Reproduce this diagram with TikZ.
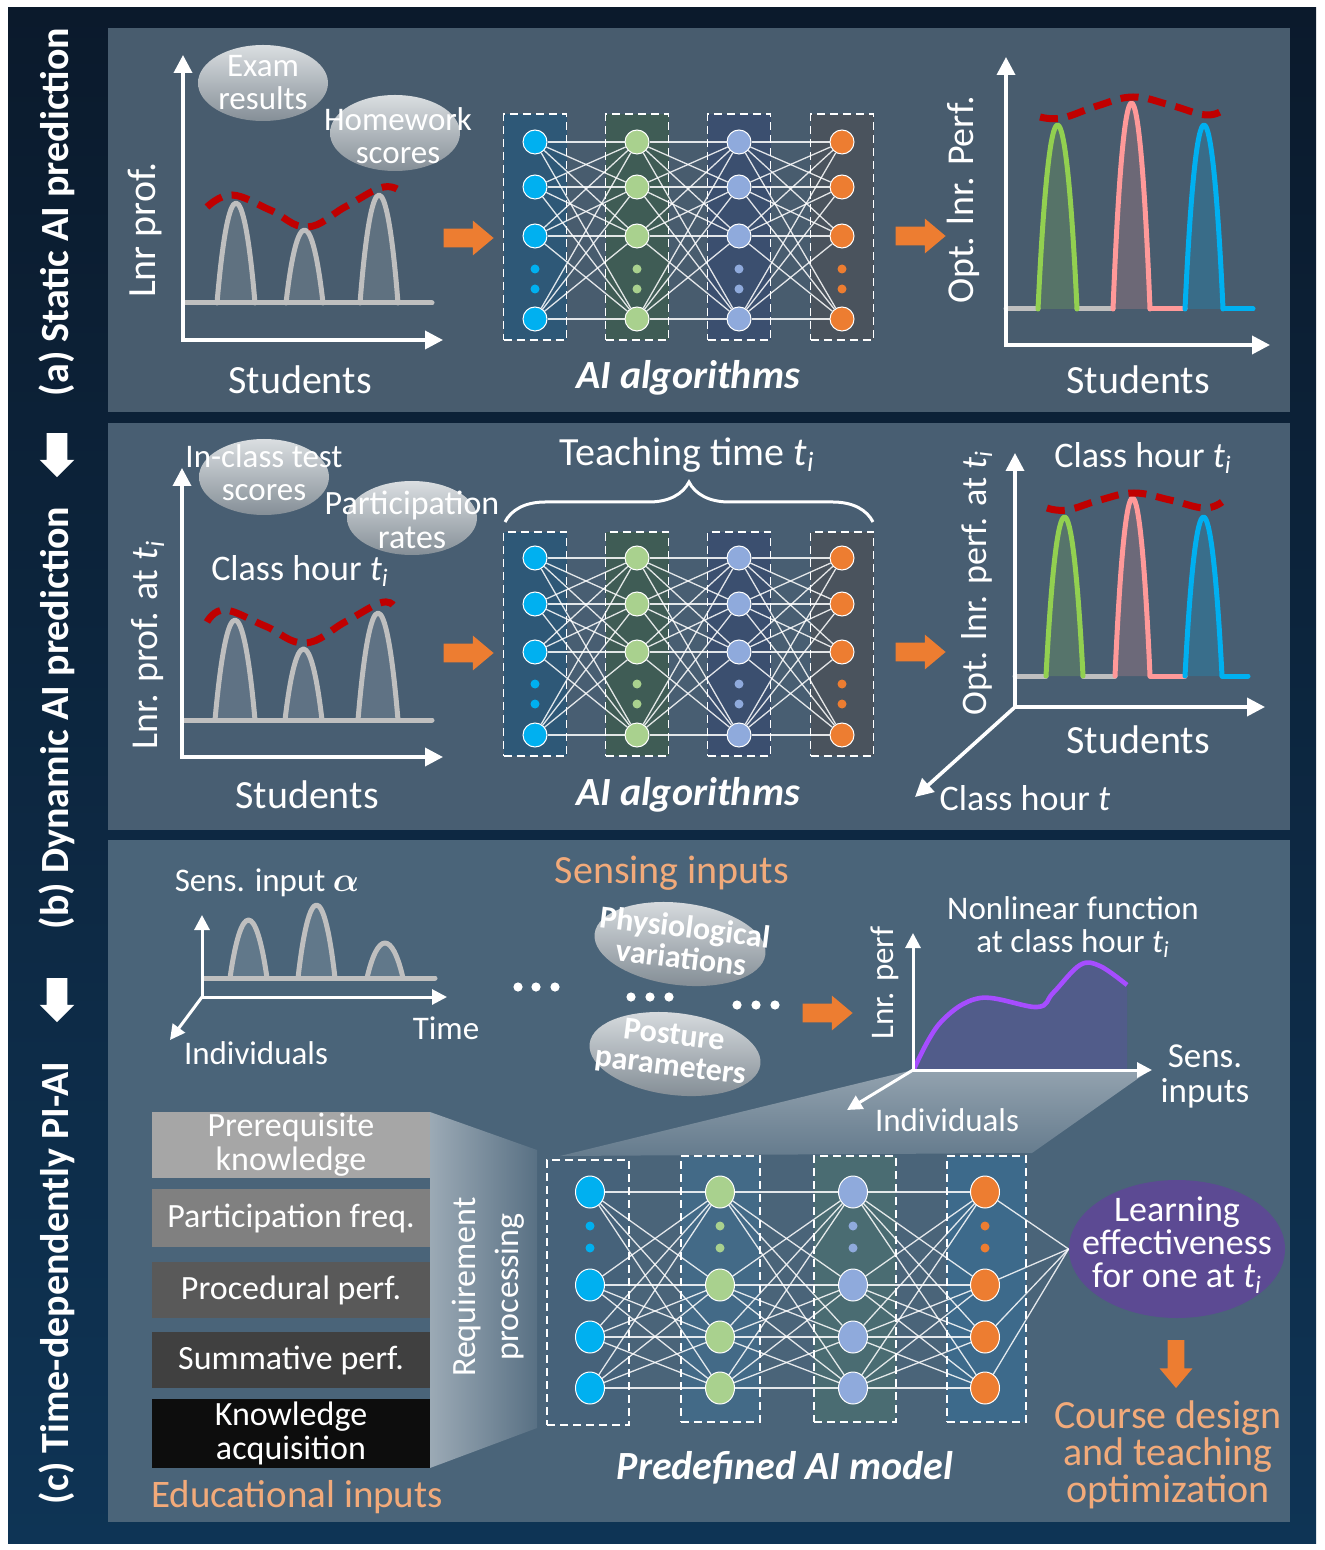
\documentclass[tikz,border=0pt]{standalone}
\usepackage{fontspec}
\setmainfont{Carlito}
\usetikzlibrary{arrows.meta,shapes.geometric,shapes.arrows,decorations.pathreplacing}

\definecolor{frameT}{HTML}{0B1A2C}
\definecolor{frameB}{HTML}{0E3455}
\definecolor{panelA}{HTML}{485C6E}
\definecolor{panelB}{HTML}{485E72}
\definecolor{panelC}{HTML}{4A6479}
\definecolor{orng}{HTML}{ED7D31}
\definecolor{peach}{HTML}{F2AA7A}
\definecolor{redd}{HTML}{C00000}
\definecolor{gpeak}{HTML}{BFBFBF}
\definecolor{ncyan}{HTML}{00B0F0}
\definecolor{ngreen}{HTML}{A9D18E}
\definecolor{nblue}{HTML}{8FAADC}
\definecolor{pgreen}{HTML}{92D050}
\definecolor{ppink}{HTML}{FF9999}
\definecolor{purp}{HTML}{5C4A93}
\definecolor{purline}{HTML}{A64DFF}
\definecolor{purfill}{HTML}{515C8A}
\definecolor{boxA1}{HTML}{2E5877}
\definecolor{boxA2}{HTML}{3F5C55}
\definecolor{boxA3}{HTML}{3B4F6F}
\definecolor{boxA4}{HTML}{4A535D}
\definecolor{boxC1}{HTML}{46627A}
\definecolor{boxC2}{HTML}{436A87}
\definecolor{boxC3}{HTML}{4A6C72}
\definecolor{boxC4}{HTML}{3D6A8B}
\definecolor{bubT}{HTML}{DADEE1}
\definecolor{bubB}{HTML}{858F97}

\newcommand\tsubi{\textit{t}\textsubscript{\textit{i}}}
\newcommand\archfill[5][]{\fill[peakfill,#1] (#2,#5) .. controls +({0.3*(#3-#2)},{-1.333*(#5-#4)}) and +({-0.3*(#3-#2)},{-1.333*(#5-#4)}) .. (#3,#5) -- cycle;}
\newcommand\archline[5][]{\draw[peakline,#1] (#2,#5) .. controls +({0.3*(#3-#2)},{-1.333*(#5-#4)}) and +({-0.3*(#3-#2)},{-1.333*(#5-#4)}) .. (#3,#5);}

\begin{document}
\begin{tikzpicture}[x=0.5pt,y=-0.5pt,
  txt/.style={text=white, inner sep=0pt, align=center},
  f20/.style={font=\fontsize{20}{24}\selectfont},
  f19/.style={font=\fontsize{19}{22}\selectfont},
  f18/.style={font=\fontsize{18}{18}\selectfont},
  f17/.style={font=\fontsize{17}{17}\selectfont},
  f16/.style={font=\fontsize{16.5}{16.5}\selectfont},
  bi/.style={font=\fontsize{20}{24}\selectfont\bfseries\itshape},
  sidelab/.style={rotate=90, text=white, inner sep=0pt, font=\fontsize{20}{24}\selectfont\bfseries},
  axis/.style={draw=white, line width=1.8pt, {Triangle[length=9pt,width=9pt]}-{Triangle[length=9pt,width=9pt]}},
  axisone/.style={draw=white, line width=1.8pt, -{Triangle[length=9pt,width=9pt]}},
  saxis/.style={draw=white, line width=1.5pt, {Triangle[length=7.5pt,width=7.5pt]}-{Triangle[length=7.5pt,width=7.5pt]}},
  saxisone/.style={draw=white, line width=1.5pt, -{Triangle[length=7.5pt,width=7.5pt]}},
  peakline/.style={draw=gpeak, line width=2.5pt, line cap=round, line join=round},
  peakfill/.style={fill=white, fill opacity=0.13},
  reddash/.style={draw=redd, line width=3.5pt, dash pattern=on 9pt off 5pt},
  neuron/.style={circle, inner sep=0pt, minimum size=12pt, draw=white, line width=0.5pt},
  neuronc/.style={ellipse, inner sep=0pt, minimum width=14.5pt, minimum height=16pt, draw=white, line width=0.5pt},
  ndot/.style={circle, inner sep=0pt, minimum size=4.5pt},
  link/.style={draw=white, line width=0.65pt, draw opacity=0.85},
  nnbox/.style={draw=white, line width=0.9pt, dash pattern=on 4pt off 2.5pt, inner sep=0pt},
  oarrow/.style={single arrow, fill=orng, inner sep=0pt, text width=0pt, text height=9pt, text depth=0pt, minimum height=25pt, single arrow head extend=4pt, single arrow tip angle=80},
  warrow/.style={single arrow, fill=white, inner sep=0pt, text width=0pt, text height=10pt, text depth=0pt, minimum height=22pt, single arrow head extend=3.5pt, rotate=-90},
  bubble/.style={top color=bubT, bottom color=bubB},
  ebox/.style={txt, f17, minimum width=139pt, text=white}
]
\useasboundingbox (0,0) rectangle (1325,1550);
\fill[white] (0,0) rectangle (1325,1550);
\shade[top color=frameT, bottom color=frameB] (8,8) rectangle (1316,1543);

% panels
\fill[panelA] (108,28) rectangle (1290,412);
\fill[panelB] (108,423) rectangle (1290,830);
\fill[panelC] (108,840) rectangle (1290,1522);

% side labels
\node[sidelab] (la) at (57,212) {(a) Static AI prediction};
\node[sidelab] (lb) at (57,718) {(b) Dynamic AI prediction};
\node[sidelab] (lc) at (57,1283) {(c) Time-dependently PI-AI};
\node[warrow] (dw1) at (57,450) {};
\node[warrow] (dw2) at (57,995) {};

%%%%%%%%%%%%%%%% PANEL A %%%%%%%%%%%%%%%%
% left chart
\coordinate (a1o) at (183,340); \coordinate (a1y) at (183,55); \coordinate (a1x) at (443,340);
\archfill{217}{255}{203}{303}
\archfill{286}{323}{230}{303}
\archfill{360}{398}{195}{303}
\draw[peakline] (185,303) -- (432,303);
\archline{217}{255}{203}{303}
\archline{286}{323}{230}{303}
\archline{360}{398}{195}{303}
\draw[reddash] plot[smooth, tension=0.7] coordinates {(207,207) (232,195) (270,210) (307,227) (345,207) (380,188) (397,189)};
\draw[axis] (a1y) -- (a1o) -- (a1x);
\coordinate (bex) at (263,83);
\shade[bubble] (bex) ellipse [x radius=32.5pt, y radius=19pt];
\node[txt, f16] (tex) at (263,83) {Exam\\results};
\coordinate (bhw) at (395,133);
\shade[bubble] (bhw) ellipse [x radius=32.5pt, y radius=19pt];
\node[txt, f16] (thw) at (398,136) {Homework\\scores};
\node[txt, f20, rotate=90] (tlnr) at (145,230) {Lnr prof.};
\node[txt, f20] (tst1) at (300,380) {Students};
\node[oarrow] (oa1) at (463,238) {};

% network a
\foreach \c/\x/\bx in {1/535/boxA1, 2/637/boxA2, 3/739/boxA3, 4/842/boxA4} {
  \node[nnbox, fill=\bx, minimum width=31.5pt, minimum height=113pt] (abox\c) at (\x,227) {};
}
\foreach \c/\x/\col in {1/535/ncyan, 2/637/ngreen, 3/739/nblue, 4/842/orng} {
  \foreach \r/\y in {1/142,2/187,3/236,4/319} {
    \node[neuron, fill=\col] (a-\c-\r) at (\x,\y) {};
  }
  \node[ndot, fill=\col] (a-\c-d1) at (\x,269) {};
  \node[ndot, fill=\col] (a-\c-d2) at (\x,289) {};
}
\foreach \c/\n in {1/2,2/3,3/4} {
  \foreach \i in {1,...,4} {
    \foreach \j in {1,...,4} { \draw[link] (a-\c-\i) -- (a-\n-\j); }
  }
}
\node[txt, bi] (tai1) at (688,378) {AI algorithms};
\node[oarrow] (oa2) at (915,236) {};

% right chart a
\coordinate (a2o) at (1006,345); \coordinate (a2y) at (1006,57); \coordinate (a2x) at (1270,345);
\archfill[fill=pgreen, fill opacity=0.2]{1038}{1077}{125}{309}
\archfill[fill=ppink, fill opacity=0.2]{1113}{1150}{103}{309}
\archfill[fill=ncyan, fill opacity=0.2]{1185}{1223}{125}{309}
\draw[peakline] (1006,309) -- (1038,309);
\draw[peakline] (1077,309) -- (1113,309);
\draw[peakline, draw=ppink] (1150,309) -- (1185,309);
\draw[peakline, draw=ncyan] (1223,309) -- (1253,309);
\archline[draw=pgreen]{1038}{1077}{125}{309}
\archline[draw=ppink]{1113}{1150}{103}{309}
\archline[draw=ncyan]{1185}{1223}{125}{309}
\draw[reddash] plot[smooth, tension=0.7] coordinates {(1040,117) (1062,118) (1097,106) (1133,97) (1170,105) (1206,115) (1225,109)};
\draw[axis] (a2y) -- (a2o) -- (a2x);
\node[txt, f19, rotate=90] (topt1) at (963,200) {Opt. lnr. Perf.};
\node[txt, f20] (tst2) at (1138,380) {Students};

%%%%%%%%%%%%%%%% PANEL B %%%%%%%%%%%%%%%%
\coordinate (b1o) at (182,757); \coordinate (b1y) at (182,468); \coordinate (b1x) at (443,757);
\archfill{215}{255}{620}{720}
\archfill{285}{322}{649}{720}
\archfill{358}{398}{613}{720}
\draw[peakline] (184,720) -- (432,720);
\archline{215}{255}{620}{720}
\archline{285}{322}{649}{720}
\archline{358}{398}{613}{720}
\draw[reddash] plot[smooth, tension=0.7] coordinates {(207,622) (225,610) (265,626) (305,643) (345,622) (380,603) (393,605)};
\draw[axis] (b1y) -- (b1o) -- (b1x);
\coordinate (bic) at (264,477);
\shade[bubble] (bic) ellipse [x radius=32.5pt, y radius=19pt];
\node[txt, f16] (tic) at (264,473) {In-class test\\scores};
\coordinate (bpr) at (412,518);
\shade[bubble] (bpr) ellipse [x radius=32.5pt, y radius=18.5pt];
\node[txt, f17] (tpr) at (412,520) {Participation\\rates};
\node[txt, f18] (tch1) at (300,571) {Class hour \tsubi};
\node[txt, f19, rotate=90] (tlnr2) at (148,645) {Lnr. prof. at \tsubi};
\node[txt, f20] (tst3) at (307,795) {Students};
\node[oarrow] (ob1) at (463,653) {};

% brace
\coordinate (brl) at (505,522); \coordinate (brr) at (873,522);
\draw[white, line width=1.5pt, decorate, decoration={brace, amplitude=20pt}] (brl) -- (brr);
\node[txt, f20] (tteach) at (687,455) {Teaching time \tsubi};

% network b
\foreach \c/\x/\bx in {1/535/boxA1, 2/637/boxA2, 3/739/boxA3, 4/842/boxA4} {
  \node[nnbox, fill=\bx, minimum width=31.5pt, minimum height=112pt] (bbox\c) at (\x,644) {};
}
\foreach \c/\x/\col in {1/535/ncyan, 2/637/ngreen, 3/739/nblue, 4/842/orng} {
  \foreach \r/\y in {1/558,2/604,3/652,4/735} {
    \node[neuron, fill=\col] (b-\c-\r) at (\x,\y) {};
  }
  \node[ndot, fill=\col] (b-\c-d1) at (\x,684) {};
  \node[ndot, fill=\col] (b-\c-d2) at (\x,704) {};
}
\foreach \c/\n in {1/2,2/3,3/4} {
  \foreach \i in {1,...,4} {
    \foreach \j in {1,...,4} { \draw[link] (b-\c-\i) -- (b-\n-\j); }
  }
}
\node[txt, bi] (tai2) at (688,795) {AI algorithms};
\node[oarrow] (ob2) at (915,652) {};

% right chart b (3D)
\coordinate (b2o) at (1015,707); \coordinate (b2y) at (1015,453); \coordinate (b2x) at (1265,707); \coordinate (b2z) at (915,797);
\archfill[fill=pgreen, fill opacity=0.2]{1046}{1083}{517}{676}
\archfill[fill=ppink, fill opacity=0.2]{1115}{1150}{498}{676}
\archfill[fill=ncyan, fill opacity=0.2]{1185}{1222}{517}{676}
\draw[peakline] (1015,676) -- (1046,676);
\draw[peakline] (1083,676) -- (1115,676);
\draw[peakline, draw=ppink] (1150,676) -- (1185,676);
\draw[peakline, draw=ncyan] (1222,676) -- (1248,676);
\archline[draw=pgreen]{1046}{1083}{517}{676}
\archline[draw=ppink]{1115}{1150}{498}{676}
\archline[draw=ncyan]{1185}{1222}{517}{676}
\draw[reddash] plot[smooth, tension=0.7] coordinates {(1047,508) (1067,510) (1100,500) (1134,493) (1170,500) (1204,508) (1222,502)};
\draw[axis] (b2y) -- (b2o) -- (b2x);
\draw[axisone] (b2o) -- (b2z);
\node[txt, f18] (tch2) at (1143,458) {Class hour \tsubi};
\node[txt, f18, rotate=90] (topt2) at (977,583) {Opt. lnr. perf. at \tsubi};
\node[txt, f20] (tst4) at (1138,740) {Students};
\node[txt, f18] (tch3) at (1025,798) {Class hour \textit{t}};

%%%%%%%%%%%%%%%% PANEL C %%%%%%%%%%%%%%%%
\node[txt, f20, text=peach] (tsens) at (672,873) {Sensing inputs};
% small chart
\coordinate (c1o) at (202,997); \coordinate (c1y) at (202,915); \coordinate (c1x) at (447,997); \coordinate (c1z) at (170,1040);
\archfill{230}{267}{920}{978}
\archfill{298}{335}{905}{978}
\archfill{367}{403}{943}{978}
\draw[peakline] (204,978) -- (435,978);
\archline{230}{267}{920}{978}
\archline{298}{335}{905}{978}
\archline{367}{403}{943}{978}
\draw[saxis] (c1y) -- (c1o) -- (c1x);
\draw[saxisone] (c1o) -- (c1z);
\node[txt, f16] (tsin) at (267,883) {Sens. input {\boldmath$\alpha$}};
\node[txt, f16] (ttime) at (446,1028) {Time};
\node[txt, f16] (tind1) at (256,1053) {Individuals};
% dots
\foreach \k/\x/\y in {1/518/987,2/536/987,3/555/987,4/631/997,5/650/997,6/669/997,7/737/1005,8/756/1005,9/775/1005} {
  \fill[white] (\x,\y) circle (2.3pt);
}
% bubbles
\coordinate (bph) at (680,944);
\shade[bubble, rotate around={-7:(bph)}] (bph) ellipse [x radius=43pt, y radius=20.5pt];
\node[txt, rotate=-7, font=\fontsize{16}{15.5}\selectfont\bfseries] (tph) at (683,942) {Physiological\\variations};
\coordinate (bpo) at (675,1054);
\shade[bubble, rotate around={-7:(bpo)}] (bpo) ellipse [x radius=43pt, y radius=20.5pt];
\node[txt, rotate=-7, font=\fontsize{16}{15.5}\selectfont\bfseries] (tpo) at (672,1052) {Posture\\parameters};
\node[oarrow] (oc1) at (822,1013) {};

% projection wedge
\shade[top color=white!40!panelC, bottom color=white!15!panelC] (913,1070) -- (1150,1070) -- (1032,1153) -- (560,1156) -- cycle;

% big chart
\coordinate (c2o) at (913,1070); \coordinate (c2y) at (913,933); \coordinate (c2x) at (1152,1070); \coordinate (c2z) at (847,1110);
\fill[purfill] plot[smooth, tension=0.6] coordinates {(914,1069) (940,1023) (980,998) (1037,1007) (1053,993) (1080,965) (1100,966) (1127,985)} -- (1127,1069) -- cycle;
\draw[purline, line width=2.3pt] plot[smooth, tension=0.6] coordinates {(914,1069) (940,1023) (980,998) (1037,1007) (1053,993) (1080,965) (1100,966) (1127,985)};
\draw[saxis] (c2y) -- (c2o) -- (c2x);
\draw[saxisone] (c2o) -- (c2z);
\node[txt, f16, rotate=90] (tlp) at (885,983) {Lnr. perf};
\node[txt, font=\fontsize{16.5}{16.5}\selectfont] (tnl) at (1073,927) {Nonlinear function\\at class hour \tsubi};
\node[txt, font=\fontsize{17.5}{17.5}\selectfont] (tsi) at (1205,1076) {Sens.\\inputs};
\node[txt, f16] (tind2) at (947,1120) {Individuals};

% educational inputs
\shade[left color=white!45!panelC, right color=white!8!panelC] (430,1112) -- (537,1150) -- (537,1428) -- (430,1468) -- cycle;
\node[ebox, fill=black!35, minimum height=33pt] (e1) at (291,1145) {Prerequisite\\knowledge};
\node[ebox, fill=black!50, minimum height=29pt] (e2) at (291,1218) {Participation freq.};
\node[ebox, fill=black!65, minimum height=28pt] (e3) at (291,1290) {Procedural perf.};
\node[ebox, fill=black!75, minimum height=28pt] (e4) at (291,1360) {Summative perf.};
\node[ebox, fill=black!95, minimum height=34.5pt] (e5) at (291,1433.5) {Knowledge\\acquisition};
\node[txt, f17, rotate=90] (treq1) at (467,1287) {Requirement};
\node[txt, f17, rotate=90] (treq2) at (510,1287) {processing};
\node[txt, font=\fontsize{19.5}{22}\selectfont, text=peach] (tedu) at (297,1497) {Educational inputs};

% network c
\node[nnbox, fill=boxC1, minimum width=41pt, minimum height=132.5pt] (cbox1) at (588,1292.5) {};
\node[nnbox, fill=boxC2, minimum width=39.5pt, minimum height=133pt] (cbox2) at (720.5,1289) {};
\node[nnbox, fill=boxC3, minimum width=41pt, minimum height=133pt] (cbox3) at (855,1289) {};
\node[nnbox, fill=boxC4, minimum width=39.5pt, minimum height=133pt] (cbox4) at (986.5,1289) {};
\node[ellipse, fill=purp, minimum width=108pt, minimum height=69pt, inner sep=0pt] (le) at (1177,1249) {};
\foreach \c/\x/\col in {1/590/ncyan, 2/720/ngreen, 3/853/nblue, 4/985/orng} {
  \foreach \r/\y in {1/1192,2/1285,3/1337,4/1388} {
    \node[neuronc, fill=\col] (c-\c-\r) at (\x,\y) {};
  }
  \node[ndot, fill=\col, minimum size=4.5pt] (c-\c-d1) at (\x,1226) {};
  \node[ndot, fill=\col, minimum size=4.5pt] (c-\c-d2) at (\x,1248) {};
}
\foreach \c/\n in {1/2,2/3,3/4} {
  \foreach \i in {1,...,4} {
    \foreach \j in {1,...,4} { \draw[link] (c-\c-\i) -- (c-\n-\j); }
  }
}
\foreach \i in {1,...,4} { \draw[link] (c-4-\i) -- (le.west); }
\node[txt, font=\fontsize{18}{16.5}\selectfont] (tle) at (1177,1245) {Learning\\effectiveness\\for one at \tsubi};
\node[oarrow, rotate=-90, text height=8pt, single arrow head extend=4pt, minimum height=24pt] (oc2) at (1176,1359) {};
\node[txt, font=\fontsize{20}{18.5}\selectfont, text=peach] (tcd) at (1168,1455) {Course design\\and teaching\\optimization};
\node[txt, bi] (tpre) at (785,1468) {Predefined AI model};
\end{tikzpicture}
\end{document}
